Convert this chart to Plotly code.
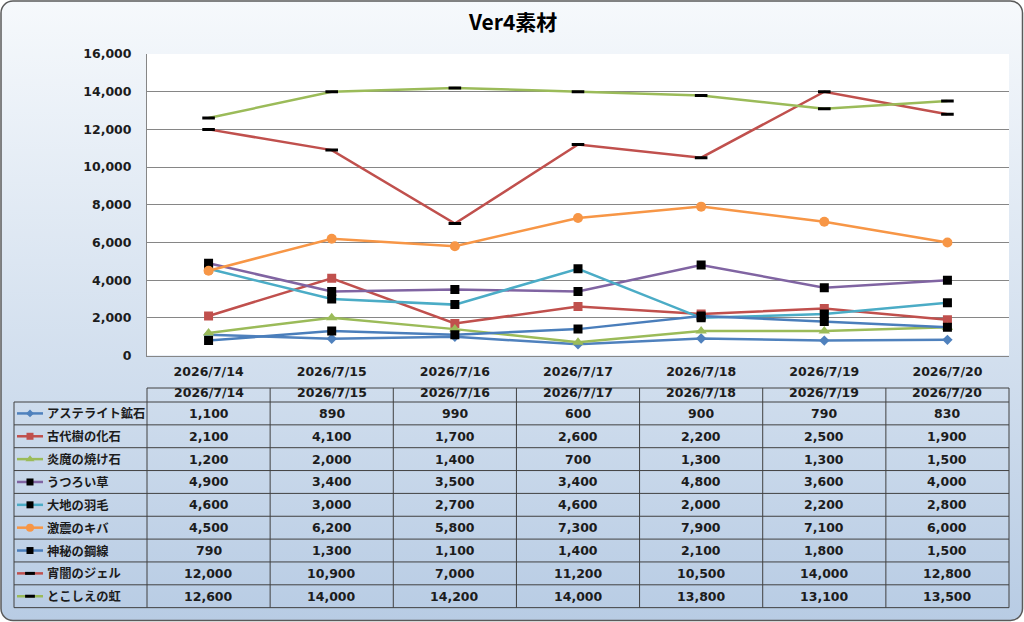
import base64
import plotly.graph_objects as go

# ---------------- data ----------------
dates = ["2026/7/14", "2026/7/15", "2026/7/16", "2026/7/17", "2026/7/18", "2026/7/19", "2026/7/20"]
names = ["アステライト鉱石", "古代樹の化石", "炎魔の焼け石", "うつろい草", "大地の羽毛",
         "激震のキバ", "神秘の鋼線", "宵闇のジェル", "とこしえの虹"]
astelite = [1100, 890, 990, 600, 900, 790, 830]
kodaiju = [2100, 4100, 1700, 2600, 2200, 2500, 1900]
enma = [1200, 2000, 1400, 700, 1300, 1300, 1500]
utsuroi = [4900, 3400, 3500, 3400, 4800, 3600, 4000]
daichi = [4600, 3000, 2700, 4600, 2000, 2200, 2800]
gekishin = [4500, 6200, 5800, 7300, 7900, 7100, 6000]
shinpi = [790, 1300, 1100, 1400, 2100, 1800, 1500]
yoiyami = [12000, 10900, 7000, 11200, 10500, 14000, 12800]
tokoshie = [12600, 14000, 14200, 14000, 13800, 13100, 13500]
series = [astelite, kodaiju, enma, utsuroi, daichi, gekishin, shinpi, yoiyami, tokoshie]
title_text = "Ver4素材"

# ---------------- styles ----------------
line_colors = ["#4F81BD", "#C0504D", "#9BBB59", "#8064A2", "#4BACC6",
               "#F79646", "#4A7EBB", "#C0504D", "#9BBB59"]
markers = [
    dict(symbol="diamond", size=8, color="#4F81BD"),
    dict(symbol="square", size=9, color="#C0504D"),
    dict(symbol="triangle-up", size=10, color="#9BBB59"),
    dict(symbol="square", size=9, color="#000000"),
    dict(symbol="square", size=9, color="#000000"),
    dict(symbol="circle", size=10, color="#F79646"),
    dict(symbol="square", size=9, color="#000000"),
    dict(symbol="line-ew", size=9, color="#000000", line=dict(color="#000000", width=3)),
    dict(symbol="line-ew", size=9, color="#000000", line=dict(color="#000000", width=3)),
]

W, H = 1024, 622
PL, PR, PT, PB = 147, 1009, 54, 355.5          # plot area (px)
TL = 14                                          # table label column left
HDR_TOP, ROW_TOP, ROW_H = 388, 402, 22.85        # table rows
NUM_FONT = "DejaVu Sans, Noto Sans CJK JP"
JP_FONT = "Noto Sans CJK JP"
TXT = "#1c1c1c"

svg = f'''<svg xmlns="http://www.w3.org/2000/svg" width="{W}" height="{H}" viewBox="0 0 {W} {H}">
<defs><linearGradient id="g" x1="0" y1="0" x2="0" y2="1">
<stop offset="0" stop-color="#f6f9fc"/><stop offset="1" stop-color="#b8cce4"/></linearGradient></defs>
<rect x="1" y="1" width="{W-2.5}" height="{H-2.5}" rx="12" ry="12" fill="url(#g)" stroke="#5a5a5a" stroke-width="1.5"/>
<rect x="{PL}" y="{PT}" width="{PR-PL}" height="{PB-PT}" fill="#ffffff"/>
</svg>'''
bg_src = "data:image/svg+xml;base64," + base64.b64encode(svg.encode("utf-8")).decode("ascii")

fig = go.Figure()

for name, vals, lc, mk in zip(names, series, line_colors, markers):
    fig.add_trace(go.Scatter(
        x=dates, y=vals, name=name, mode="lines+markers",
        line=dict(color=lc, width=2.5), marker=mk,
        xaxis="x", yaxis="y", showlegend=False))

for i, (lc, mk) in enumerate(zip(line_colors, markers)):
    yc = ROW_TOP + (i + 0.5) * ROW_H
    fig.add_trace(go.Scatter(x=[17, 43], y=[yc, yc], mode="lines",
                             line=dict(color=lc, width=2.5), xaxis="x2", yaxis="y2",
                             showlegend=False, hoverinfo="skip"))
    mk2 = dict(mk)
    mk2["size"] = max(mk["size"] - 2, 6)
    fig.add_trace(go.Scatter(x=[30], y=[yc], mode="markers", marker=mk2,
                             xaxis="x2", yaxis="y2", showlegend=False, hoverinfo="skip"))

shapes = []
annotations = []
col_w = (PR - PL) / len(dates)
n_rows = len(names)
bottom = ROW_TOP + n_rows * ROW_H
LC = "#404040"
for k in range(len(dates) + 1):
    x = PL + k * col_w
    shapes.append(dict(type="line", xref="x2", yref="y2", x0=x, x1=x, y0=HDR_TOP, y1=bottom,
                       line=dict(color=LC, width=1)))
shapes.append(dict(type="line", xref="x2", yref="y2", x0=TL, x1=TL, y0=ROW_TOP, y1=bottom,
                   line=dict(color=LC, width=1)))
shapes.append(dict(type="line", xref="x2", yref="y2", x0=PL, x1=PR, y0=HDR_TOP, y1=HDR_TOP,
                   line=dict(color=LC, width=1)))
for r in range(n_rows + 1):
    y = ROW_TOP + r * ROW_H
    shapes.append(dict(type="line", xref="x2", yref="y2", x0=TL, x1=PR, y0=y, y1=y,
                       line=dict(color=LC, width=1)))

num_font = dict(family=NUM_FONT, size=12.5, color=TXT, weight="bold")
for k, d in enumerate(dates):
    annotations.append(dict(xref="x2", yref="y2", x=PL + (k + 0.5) * col_w, y=HDR_TOP + 4,
                            text=d, showarrow=False, font=num_font))
for i, (name, vals) in enumerate(zip(names, series)):
    yc = ROW_TOP + (i + 0.5) * ROW_H
    annotations.append(dict(xref="x2", yref="y2", x=45, y=yc, xanchor="left", text=name,
                            showarrow=False, font=dict(family=JP_FONT, size=12.3, color=TXT, weight="bold")))
    for k, v in enumerate(vals):
        annotations.append(dict(xref="x2", yref="y2", x=PL + (k + 0.5) * col_w, y=yc,
                                text=f"{v:,}", showarrow=False, font=num_font))
annotations.append(dict(xref="x2", yref="y2", x=W / 2, y=21, text=title_text, showarrow=False,
                        font=dict(family=JP_FONT, size=21, color="#000000", weight="bold")))

fig.update_layout(
    template="none",
    width=W, height=H, margin=dict(l=0, r=0, t=0, b=0, pad=0), autosize=False,
    paper_bgcolor="#ffffff", plot_bgcolor="rgba(0,0,0,0)",
    images=[dict(source=bg_src, xref="paper", yref="paper", x=0, y=1, sizex=1, sizey=1,
                 xanchor="left", yanchor="top", sizing="stretch", layer="below")],
    xaxis=dict(domain=[PL / W, PR / W], anchor="y", type="category", range=[-0.5, len(dates) - 0.5],
               showgrid=False, showline=True, linecolor="#868686", linewidth=1, zeroline=False,
               ticks="outside", ticklen=4, tickcolor="rgba(0,0,0,0)", automargin=False,
               tickfont=num_font, fixedrange=True),
    yaxis=dict(domain=[1 - PB / H, 1 - PT / H], anchor="x", range=[0, 16000], dtick=2000,
               tickformat=",", showgrid=True, gridcolor="#868686", gridwidth=1,
               showline=True, linecolor="#868686", linewidth=1, zeroline=False,
               ticks="", ticklabelstandoff=12, automargin=False,
               tickfont=num_font, fixedrange=True),
    xaxis2=dict(domain=[0, 1], anchor="y2", range=[0, W], visible=False, fixedrange=True,
                automargin=False, showgrid=False, zeroline=False),
    yaxis2=dict(domain=[0, 1], anchor="x2", range=[H, 0], visible=False, fixedrange=True,
                automargin=False, showgrid=False, zeroline=False),
    shapes=shapes, annotations=annotations, showlegend=False,
)

css_fix = ("var s=document.createElement('style');"
           "s.textContent='html,body{margin:0 !important;padding:0 !important;overflow:hidden !important;}';"
           "document.head.appendChild(s);")
fig.write_html("out.html", config={"displayModeBar": False}, post_script=css_fix)
